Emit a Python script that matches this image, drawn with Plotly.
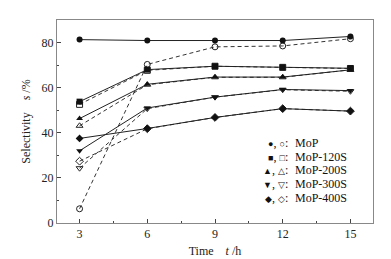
import plotly.graph_objects as go

time_h = [3, 6, 9, 12, 15]
series_names = ["MoP", "MoP-120S", "MoP-200S", "MoP-300S", "MoP-400S"]
filled_vals = [
    [81.3, 80.9, 80.9, 80.9, 82.7],
    [53.8, 68.0, 69.5, 69.0, 68.6],
    [46.3, 61.5, 64.7, 64.7, 67.9],
    [32.0, 51.0, 55.8, 59.2, 58.7],
    [37.5, 41.9, 46.8, 50.7, 49.6],
]
open_vals = [
    [6.3, 70.3, 78.1, 78.5, 81.7],
    [52.6, 67.7, 69.5, 69.0, 68.5],
    [43.1, 61.3, 64.6, 64.6, 67.9],
    [24.3, 50.7, 55.8, 59.1, 58.4],
    [27.4, 41.8, 46.8, 50.7, 49.6],
]
symbols = ["circle", "square", "triangle-up", "triangle-down", "diamond"]
legend_filled = ["●", "■", "▲", "▼", "◆"]
legend_open = ["○", "□", "△", "▽", "◇"]
x_ticks = [3, 6, 9, 12, 15]
y_ticks = [0, 20, 40, 60, 80]

FONT = "Liberation Serif"
fig = go.Figure()
for name, sym, fv, ov in zip(series_names, symbols, filled_vals, open_vals):
    fig.add_trace(go.Scatter(
        x=time_h, y=ov, mode="lines+markers", name=name + " open",
        line=dict(color="#333", width=1, dash="4px,3px"),
        marker=dict(symbol=sym + "-open", size=6, color="#222", line=dict(width=1)),
        showlegend=False))
    fig.add_trace(go.Scatter(
        x=time_h, y=fv, mode="lines+markers", name=name,
        line=dict(color="#222", width=1),
        marker=dict(symbol=sym, size=6, color="#111"),
        showlegend=False))

rows_y = [0.394, 0.327, 0.26, 0.192, 0.125]
for f, o, n, yy in zip(legend_filled, legend_open, series_names, rows_y):
    sym_text = ("<span style='font-size:9px'>" + f + "</span>, "
                "<span style='font-size:9px'>" + o + "</span>:")
    fig.add_annotation(x=0.738, y=yy, xref="paper", yref="paper", text=sym_text,
                       showarrow=False, xanchor="right", yanchor="middle",
                       font=dict(family=FONT, size=12, color="#111"))
    fig.add_annotation(x=0.738, y=yy, xref="paper", yref="paper", text=" " + n,
                       showarrow=False, xanchor="left", yanchor="middle",
                       font=dict(family=FONT, size=12, color="#111"))

axis_common = dict(showline=True, linecolor="#888", linewidth=1, mirror=True,
                   ticks="inside", ticklen=4, tickcolor="#444", showgrid=False,
                   zeroline=False, tickfont=dict(family=FONT, size=12, color="#222"))
fig.update_xaxes(range=[2, 16], tickvals=x_ticks,
                 minor=dict(ticks="inside", ticklen=2, tickcolor="#444", dtick=1.5, tick0=3),
                 title=dict(text="Time&nbsp;&nbsp;&nbsp;&nbsp;<i>t</i> /h", standoff=6,
                            font=dict(family=FONT, size=12, color="#222")),
                 **axis_common)
fig.update_yaxes(range=[0, 90], tickvals=y_ticks,
                 minor=dict(ticks="inside", ticklen=2, tickcolor="#444", dtick=10, tick0=0),
                 title=dict(text="Selectivity&nbsp;&nbsp;&nbsp;&nbsp;<i>s</i> /%", standoff=8,
                            font=dict(family=FONT, size=12, color="#222")),
                 **axis_common)
fig.update_layout(width=391, height=259, margin=dict(l=49, r=26, t=11, b=40),
                  plot_bgcolor="white", paper_bgcolor="white")
fig.write_html("out.html")
